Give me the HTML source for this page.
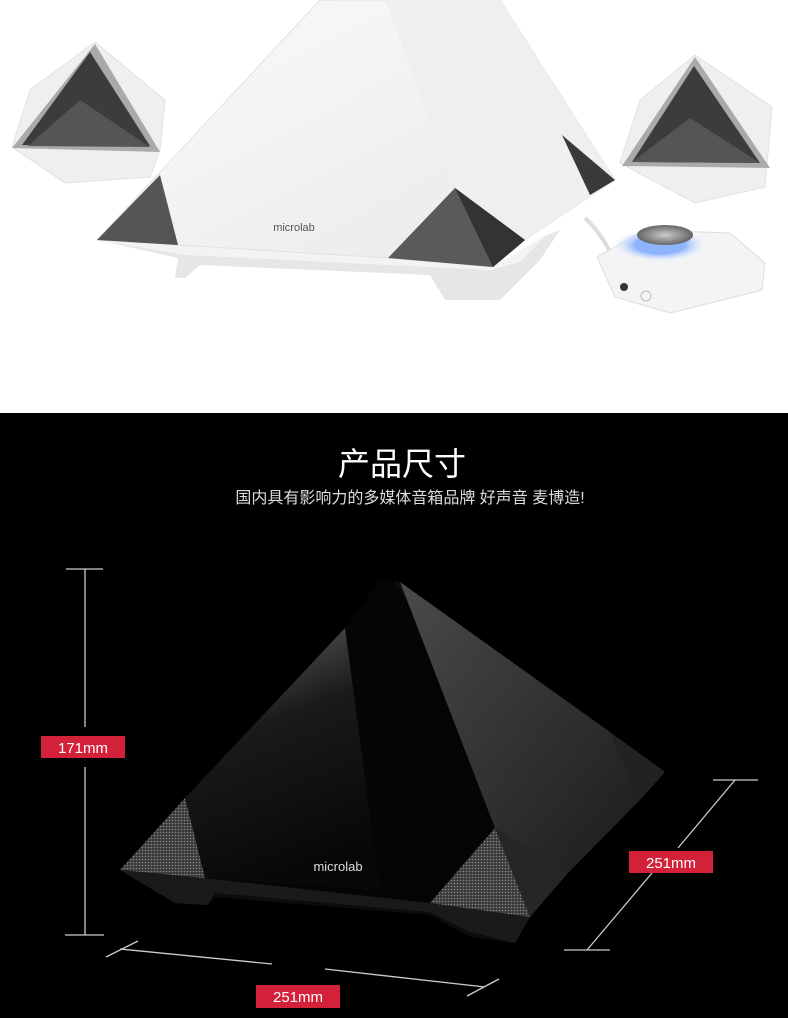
<!DOCTYPE html>
<html><head><meta charset="utf-8"><style>
html,body{margin:0;padding:0;width:788px;height:1018px;overflow:hidden;background:#fff}
svg{display:block}
</style></head><body>
<svg width="788" height="1018" viewBox="0 0 788 1018" xmlns="http://www.w3.org/2000/svg">
<defs>
<linearGradient id="wf" x1="0" y1="0" x2="1" y2="1"><stop offset="0" stop-color="#fbfbfb"/><stop offset="1" stop-color="#e8e8e8"/></linearGradient>
<linearGradient id="ff" x1="0" y1="0" x2="0.3" y2="1"><stop offset="0" stop-color="#6a6a6a"/><stop offset="0.45" stop-color="#1a1a1a"/><stop offset="1" stop-color="#080808"/></linearGradient>
<linearGradient id="rf" x1="0" y1="0" x2="1" y2="1"><stop offset="0" stop-color="#4a4a4a"/><stop offset="1" stop-color="#1c1c1c"/></linearGradient>
<radialGradient id="glow"><stop offset="0.5" stop-color="#8fb4ff"/><stop offset="1" stop-color="#fff" stop-opacity="0"/></radialGradient>
<radialGradient id="knob"><stop offset="0" stop-color="#ccc"/><stop offset="1" stop-color="#666"/></radialGradient>
<pattern id="mesh" width="3" height="3" patternUnits="userSpaceOnUse"><rect width="3" height="3" fill="#3a3a3a"/><circle cx="1.5" cy="1.5" r="0.8" fill="#8a8a8a"/></pattern>
</defs>
<rect x="0" y="0" width="788" height="413" fill="#fff"/>
<polygon points="97,240 178,245 388,258 493,267 545,236 560,230 540,260 500,300 445,300 430,275 200,265 185,278 175,278 178,258" fill="#e6e6e6"/>
<polygon points="97,240 178,245 388,258 493,267 545,236 520,262 490,270 185,255" fill="#f3f3f3"/>
<polygon points="97,240 320,0 500,0 615,180 525,240 493,267 388,258 178,245" fill="url(#wf)" stroke="#e2e2e2"/>
<polygon points="385,0 500,0 615,180 525,240 455,188" fill="#efefef"/>
<polygon points="97,240 160,175 178,245" fill="#555"/>
<polygon points="455,188 388,258 493,267 525,240" fill="#5a5a5a"/>
<polygon points="455,188 493,267 525,240" fill="#333"/>
<polygon points="562,135 615,180 590,195" fill="#3a3a3a"/>
<text x="294" y="231" font-family="Liberation Sans,sans-serif" font-size="11" fill="#555" text-anchor="middle">microlab</text>
<polygon points="95,42 165,100 160,150 150,177 65,183 12,147 30,90" fill="#efefef" stroke="#e2e2e2"/>
<polygon points="95,44 12,148 160,152" fill="#aaa"/>
<polygon points="90,52 22,145 150,146" fill="#3c3c3c"/>
<polygon points="80,100 28,146 150,147" fill="#555"/>
<polygon points="695,55 772,107 765,187 695,203 620,163 640,100" fill="#efefef" stroke="#e2e2e2"/>
<polygon points="695,57 622,166 770,168" fill="#aaa"/>
<polygon points="694,66 632,162 760,163" fill="#3c3c3c"/>
<polygon points="690,118 632,162 760,163" fill="#555"/>
<path d="M585,218 Q600,232 610,252" stroke="#ddd" stroke-width="4" fill="none"/>
<polygon points="597,257 645,230 730,233 765,263 762,290 670,313 615,297" fill="#f4f4f4" stroke="#ddd"/>
<ellipse cx="660" cy="245" rx="50" ry="18" fill="url(#glow)"/>
<ellipse cx="665" cy="235" rx="28" ry="10" fill="url(#knob)"/>
<circle cx="624" cy="287" r="4" fill="#333"/>
<circle cx="646" cy="296" r="5" fill="none" stroke="#bbb"/>
<rect x="0" y="413" width="788" height="605" fill="#000"/>
<text x="402" y="475" font-family="Liberation Sans,'Noto Sans CJK SC',sans-serif" font-size="32" fill="#fff" text-anchor="middle">产品尺寸</text>
<text x="410" y="503" font-family="Liberation Sans,'Noto Sans CJK SC',sans-serif" font-size="16" fill="#ddd" text-anchor="middle">国内具有影响力的多媒体音箱品牌 好声音 麦博造!</text>
<polygon points="120,870 175,903 205,905 215,897 430,915 470,937 515,943 530,917 568,873 640,800 665,772 610,732 400,582 395,580" fill="#0c0c0c"/>
<polygon points="120,870 175,903 208,905 215,893 430,912 470,932 515,943 530,917 430,903 205,878" fill="#1a1a1a"/>
<polygon points="345,628 185,798 205,878 430,903 495,828 420,620 395,582 380,580" fill="#050505"/>
<polygon points="345,628 185,798 205,878 380,890" fill="url(#ff)"/>
<polygon points="400,582 610,732 640,800 568,873 495,828" fill="url(#rf)"/>
<polygon points="610,732 665,772 640,800" fill="#222"/>
<polygon points="120,870 185,798 205,878" fill="url(#mesh)"/>
<polygon points="495,828 430,903 530,917" fill="url(#mesh)"/>
<polygon points="495,828 568,873 530,917" fill="#262626"/>
<text x="338" y="871" font-family="Liberation Sans,sans-serif" font-size="13" fill="#ddd" text-anchor="middle">microlab</text>
<g stroke="#ccc" stroke-width="1.3" fill="none">
<line x1="85" y1="569" x2="85" y2="727"/><line x1="85" y1="767" x2="85" y2="935"/>
<line x1="66" y1="569" x2="103" y2="569"/><line x1="65" y1="935" x2="104" y2="935"/>
<line x1="106" y1="957" x2="138" y2="941"/><line x1="120" y1="949" x2="272" y2="964"/>
<line x1="325" y1="969" x2="485" y2="987"/><line x1="467" y1="996" x2="499" y2="979"/>
<line x1="713" y1="780" x2="758" y2="780"/><line x1="564" y1="950" x2="610" y2="950"/>
<line x1="735" y1="780" x2="678" y2="848"/><line x1="652" y1="873" x2="587" y2="950"/>
</g>
<g font-family="Liberation Sans,sans-serif" font-size="15" fill="#fff" text-anchor="middle">
<rect x="41" y="736" width="84" height="22" fill="#d4213a"/><text x="83" y="753">171mm</text>
<rect x="256" y="985" width="84" height="23" fill="#d4213a"/><text x="298" y="1002">251mm</text>
<rect x="629" y="851" width="84" height="22" fill="#d4213a"/><text x="671" y="868">251mm</text>
</g>
</svg>
</body></html>
